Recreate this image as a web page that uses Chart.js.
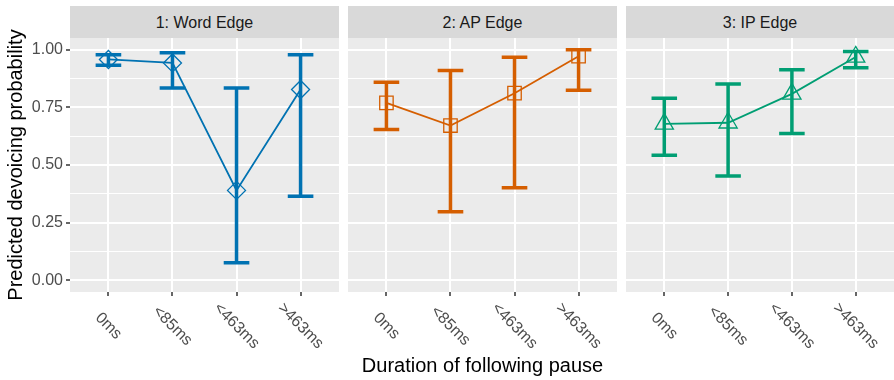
<!DOCTYPE html>
<html>
<head>
<meta charset="utf-8">
<script src="https://cdn.jsdelivr.net/npm/chart.js@4/dist/chart.umd.min.js"></script>
<style>
  body { margin: 0; background: #fff; }
  #wrap { position: relative; width: 894px; height: 380px; overflow: hidden; }
  #wrap canvas { position: absolute; top: 0; }
  .strip {
    position: absolute; top: 6px; height: 32px;
    background: #D9D9D9; color: #1A1A1A; text-align: center;
    font: 16px "Liberation Sans", Arial, sans-serif;
    line-height: 33px;
  }
</style>
</head>
<body>
<div id="wrap"></div>
<script>
const categories = ['0ms', '<85ms', '<463ms', '>463ms'];
const yTicks = [0, 0.25, 0.5, 0.75, 1];
const yTickLabels = ['0.00', '0.25', '0.50', '0.75', '1.00'];
const yMinor = [0.125, 0.375, 0.625, 0.875];

const wordEdge = [0.957, 0.942, 0.390, 0.827];
const wordLo = [0.932, 0.834, 0.077, 0.365];
const wordHi = [0.978, 0.986, 0.834, 0.978];

const apEdge = [0.769, 0.671, 0.811, 0.971];
const apLo = [0.654, 0.297, 0.401, 0.824];
const apHi = [0.858, 0.909, 0.967, 0.999];

const ipEdge = [0.678, 0.683, 0.808, 0.968];
const ipLo = [0.542, 0.452, 0.636, 0.921];
const ipHi = [0.789, 0.851, 0.912, 0.991];

const panels = [
  { title: '1: Word Edge', values: wordEdge, lo: wordLo, hi: wordHi, color: '#0072B2', shape: 'rectRot', radius: 9, left: 0, width: 339, yAxis: true },
  { title: '2: AP Edge', values: apEdge, lo: apLo, hi: apHi, color: '#D55E00', shape: 'rect', radius: 9.5, left: 348, width: 269, xTitle: true },
  { title: '3: IP Edge', values: ipEdge, lo: ipLo, hi: ipHi, color: '#009E73', shape: 'triangle', radius: 10.5, left: 626, width: 268 }
];

const capHalf = 0.2;
const font = '"Liberation Sans", Arial, sans-serif';

function errorBarPoints(lo, hi) {
  let pts = [];
  lo.forEach((l, i) => {
    let x = i + 1;
    pts.push({x: x - capHalf, y: hi[i]}, {x: x + capHalf, y: hi[i]}, {x: x, y: null});
    pts.push({x: x, y: hi[i]}, {x: x, y: l}, {x: x, y: null});
    pts.push({x: x - capHalf, y: l}, {x: x + capHalf, y: l}, {x: x, y: null});
  });
  return pts;
}

const panelBg = {
  id: 'panelBg',
  beforeDraw(chart) {
    let a = chart.chartArea;
    let ctx = chart.ctx;
    ctx.save();
    ctx.fillStyle = '#EBEBEB';
    ctx.fillRect(a.left, a.top, a.right - a.left, a.bottom - a.top);
    ctx.restore();
  }
};

const slantLabels = {
  id: 'slantLabels',
  afterDraw(chart) {
    let xs = chart.scales.x;
    let ctx = chart.ctx;
    ctx.save();
    ctx.font = '16px ' + font;
    ctx.fillStyle = '#4D4D4D';
    ctx.textAlign = 'center';
    ctx.textBaseline = 'middle';
    categories.forEach((c, i) => {
      ctx.save();
      ctx.translate(xs.getPixelForValue(i + 1), xs.top + 34);
      ctx.rotate(Math.PI / 4);
      ctx.fillText(c, 0, 0);
      ctx.restore();
    });
    ctx.restore();
  }
};

let wrap = document.getElementById('wrap');

panels.forEach(p => {
  let strip = document.createElement('div');
  strip.className = 'strip';
  strip.style.left = (p.left + (p.yAxis ? 70 : 0)) + 'px';
  strip.style.width = (p.width - (p.yAxis ? 70 : 0)) + 'px';
  strip.textContent = p.title;
  wrap.appendChild(strip);

  let canvas = document.createElement('canvas');
  canvas.width = p.width;
  canvas.height = 380;
  canvas.style.left = p.left + 'px';
  wrap.appendChild(canvas);

  let isMajor = v => yTicks.indexOf(v) >= 0;

  new Chart(canvas.getContext('2d'), {
    type: 'line',
    data: {
      datasets: [{
        data: p.values.map((v, i) => ({x: i + 1, y: v})),
        borderColor: p.color,
        borderWidth: 1.8,
        pointStyle: p.shape,
        pointRadius: p.radius,
        pointBorderWidth: 1.3,
        pointBorderColor: p.color,
        pointBackgroundColor: 'rgba(0,0,0,0)',
        tension: 0,
        order: 0
      }, {
        data: errorBarPoints(p.lo, p.hi),
        borderColor: p.color,
        borderWidth: 3.5,
        pointRadius: 0,
        spanGaps: false,
        tension: 0,
        order: 1
      }]
    },
    plugins: [panelBg, slantLabels],
    options: {
      responsive: false,
      animation: false,
      events: [],
      layout: { autoPadding: false, padding: { top: 38, left: 0, right: 0, bottom: 0 } },
      plugins: { legend: { display: false }, tooltip: { enabled: false } },
      scales: {
        x: {
          type: 'linear',
          bounds: 'data',
          min: 0.4,
          max: 4.6,
          afterBuildTicks: s => { s.ticks = categories.map((c, i) => ({value: i + 1})); s.min = 0.4; s.max = 4.6; },
          afterFit: s => { s.height = 88; },
          border: { display: false },
          grid: { color: '#FFFFFF', lineWidth: 2, tickColor: '#333333', tickLength: 4, tickWidth: 1.5 },
          ticks: { display: false },
          title: {
            display: !!p.xTitle,
            text: 'Duration of following pause',
            color: '#000000',
            font: { family: font, size: 20 },
            padding: { top: 0, bottom: 2 }
          }
        },
        y: {
          bounds: 'data',
          min: -0.05,
          max: 1.05,
          afterBuildTicks: s => { s.ticks = yTicks.concat(yMinor).sort((a, b) => a - b).map(v => ({value: v})); s.min = -0.05; s.max = 1.05; },
          afterFit: s => { s.width = p.yAxis ? 70 : 0; },
          border: { display: false },
          grid: {
            color: '#FFFFFF',
            lineWidth: c => isMajor(c.tick.value) ? 2 : 1,
            drawTicks: !!p.yAxis,
            tickLength: 4,
            tickWidth: 1.5,
            tickColor: c => isMajor(c.tick.value) ? '#333333' : 'rgba(0,0,0,0)'
          },
          ticks: {
            display: !!p.yAxis,
            autoSkip: false,
            padding: 3,
            color: '#4D4D4D',
            font: { family: font, size: 16 },
            callback: v => { let i = yTicks.indexOf(v); return i >= 0 ? yTickLabels[i] : ''; }
          },
          title: {
            display: !!p.yAxis,
            text: 'Predicted devoicing probability',
            color: '#000000',
            font: { family: font, size: 20 },
            padding: { top: 4, bottom: 0 }
          }
        }
      }
    }
  });
});
</script>
</body>
</html>
